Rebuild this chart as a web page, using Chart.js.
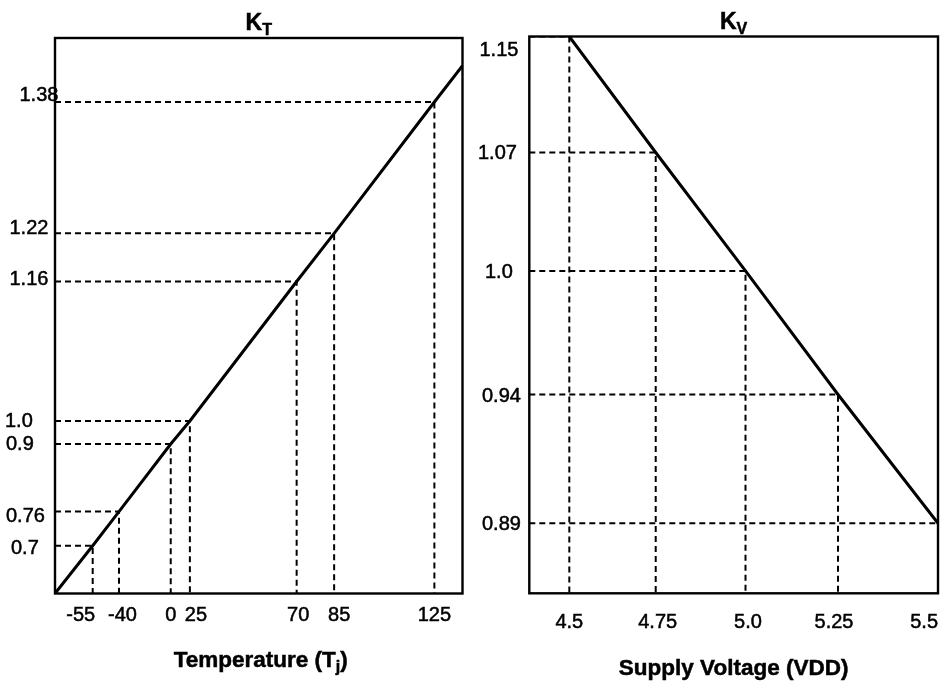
<!DOCTYPE html>
<html><head><meta charset="utf-8">
<script src="https://cdn.jsdelivr.net/npm/chart.js@4.4.0/dist/chart.umd.min.js"></script>
<style>
html,body{margin:0;padding:0;background:#fff;}
#wrap{position:relative;width:945px;height:684px;overflow:hidden;background:#fff;}
canvas{position:absolute;top:0;}
</style></head><body>
<div id="wrap">
<canvas id="c1" width="472" height="684" style="left:0"></canvas>
<canvas id="c2" width="473" height="684" style="left:472px"></canvas>
</div>
<script>
// ---------- DATA ----------
// Left chart: K_T vs junction temperature
const tempTicks = [-55, -40, 0, 25, 70, 85, 125];
const tempTickLabels = ['-55', '-40', '0', '25', '70', '85', '125'];
const ktValues = [0.7, 0.76, 0.9, 1.0, 1.16, 1.22, 1.38];
const ktTickLabels = ['0.7', '0.76', '0.9', '1.0', '1.16', '1.22', '1.38'];
const tempRange = [-76, 136];          // axis ends
const ktRange = [0.62, 1.46];
const ktCurveEndT = 136;               // curve leaves the frame at the right edge
const ktCurveEndK = 1.425;

// Right chart: K_V vs supply voltage
const vddTicks = [4.5, 4.75, 5.0, 5.25, 5.5];
const vddTickLabels = ['4.5', '4.75', '5.0', '5.25', '5.5'];
const kvValues = [1.15, 1.07, 1.0, 0.94, 0.89];
const kvTickLabels = ['1.15', '1.07', '1.0', '0.94', '0.89'];
const vddRange = [4.38, 5.5];
const kvRange = [0.86, 1.15];

const titleLeft = ['K', 'T'];
const titleRight = ['K', 'V'];
const xTitleLeft = ['Temperature (T', 'j', ')'];
const xTitleRight = ['Supply Voltage (VDD)'];

// ---------- LAYOUT (the drawing's warped axes: fraction of axis length per knot) ----------
const tempAxisFrac = [0, 0.0925, 0.157, 0.284, 0.331, 0.593, 0.685, 0.931, 1];
const ktAxisFrac = [0, 0.0860, 0.1474, 0.2691, 0.3105, 0.5617, 0.6484, 0.8848, 0.950, 1];
const vddAxisFrac = [0, 0.0979, 0.3093, 0.529, 0.7553, 1];
const kvAxisFrac = [0, 0.1257, 0.357, 0.5789, 0.7917, 1];

const tempLabelDx = [-12, 3.5, 0, 6, 1.5, 5, 0];
const ktLabelX = [11, 6, 6, 5, 9.5, 9.5, 19.5];
const ktLabelDy = [0.8, 3.1, -1.5, -1.2, -3.2, -6.6, -7.8];
const vddLabelDx = [0, 2, 2.5, -4, 0];
const kvLabelX = [7.5, 6, 13, 10, 10];

const FONT = '"Liberation Sans", Arial, Helvetica, sans-serif';
const TICK_PX = 20;

function piecewise(values, fracs) {
  const pairs = values.map((v, i) => [v, fracs[i]]).sort((a, b) => a[0] - b[0]);
  const vs = pairs.map(p => p[0]), fs = pairs.map(p => p[1]);
  const seg = (v, i) => fs[i] + (v - vs[i]) * (fs[i + 1] - fs[i]) / (vs[i + 1] - vs[i]);
  return {
    toDec(v) {
      if (v <= vs[0]) return seg(v, 0);
      for (let i = 0; i < vs.length - 1; i++) if (v <= vs[i + 1]) return seg(v, i);
      return seg(v, vs.length - 2);
    },
    fromDec(d) {
      for (let i = 0; i < fs.length - 1; i++) if (d <= fs[i + 1] || i === fs.length - 2)
        return vs[i] + (d - fs[i]) * (vs[i + 1] - vs[i]) / (fs[i + 1] - fs[i]);
    }
  };
}

function warpedAxis(map, range, fixed) {
  return {
    type: 'linear', min: range[0], max: range[1], display: true,
    grid: { display: false }, border: { display: false }, ticks: { display: false },
    beforeUpdate(s) {
      s.getPixelForValue = (v) => (v === null || v === undefined) ? NaN : s.getPixelForDecimal(map.toDec(v));
      s.getValueForPixel = (p) => map.fromDec(s.getDecimalForPixel(p));
    },
    afterFit(s) { if (s.isHorizontal()) s.height = fixed; else s.width = fixed; }
  };
}

function guideSets(xs, ys, xMin, yMin) {
  return xs.map((x, i) => ({
    data: [{ x: xMin, y: ys[i] }, { x: x, y: ys[i] }, { x: x, y: yMin }],
    showLine: true, borderColor: '#000', borderWidth: 2, borderDash: [6, 4],
    pointRadius: 0, fill: false, tension: 0
  }));
}

function drawParts(ctx, parts, cx, baseline, stroke) {
  let total = 0;
  parts.forEach(p => { ctx.font = `${p.weight} ${p.size}px ${FONT}`; p.w = ctx.measureText(p.text).width; total += p.w; });
  let x = cx - total / 2;
  ctx.textAlign = 'left'; ctx.textBaseline = 'alphabetic';
  parts.forEach(p => {
    ctx.font = `${p.weight} ${p.size}px ${FONT}`;
    ctx.fillText(p.text, x, baseline + p.dy);
    if (stroke) ctx.strokeText(p.text, x, baseline + p.dy);
    x += p.w;
  });
}

function decor(cfg) {
  return {
    id: 'decor',
    afterDatasetsDraw(chart) {
      const ctx = chart.ctx, a = chart.chartArea, xs = chart.scales.x, ys = chart.scales.y;
      ctx.save();
      ctx.strokeStyle = '#000'; ctx.lineWidth = 2.4; ctx.setLineDash([]);
      ctx.strokeRect(a.left, a.top, a.right - a.left, a.bottom - a.top);
      ctx.fillStyle = '#000';
      ctx.lineWidth = 0.5;
      // title with subscript
      drawParts(ctx, [
        { text: cfg.title[0], size: 23, weight: 'bold', dy: 0 },
        { text: cfg.title[1], size: 16, weight: 'bold', dy: 5 }
      ], (a.left + a.right) / 2, cfg.titleY, true);
      // x tick labels
      ctx.font = `${TICK_PX}px ${FONT}`; ctx.textBaseline = 'alphabetic'; ctx.textAlign = 'center';
      cfg.xTicks.forEach((v, i) => {
        const lab = cfg.xLabels[i];
        const w = ctx.measureText(lab).width;
        let cx = xs.getPixelForValue(v) + cfg.xDx[i];
        cx = Math.min(cx, a.right - w / 2);
        ctx.fillText(lab, cx, cfg.xLabelBase);
        ctx.strokeText(lab, cx, cfg.xLabelBase);
      });
      // y tick labels
      ctx.textAlign = 'left';
      cfg.yTicks.forEach((v, i) => {
        let cy = ys.getPixelForValue(v) + (cfg.yDy ? cfg.yDy[i] : 0);
        cy = Math.max(cy, a.top + 12.5);
        ctx.fillText(cfg.yLabels[i], cfg.yX[i], cy + 7);
        ctx.strokeText(cfg.yLabels[i], cfg.yX[i], cy + 7);
      });
      // axis title
      const parts = cfg.xTitle.map((t, i) => ({ text: t, size: (i === 1 ? 16 : 22.5), weight: 'bold', dy: (i === 1 ? 5 : 0) }));
      drawParts(ctx, parts, (a.left + a.right) / 2 + cfg.xTitleDx, cfg.xTitleBase, true);
      ctx.restore();
    }
  };
}

Chart.defaults.font.family = FONT;
const common = {
  responsive: false, animation: false, devicePixelRatio: 1,
  plugins: { legend: { display: false }, tooltip: { enabled: false }, title: { display: false } },
  events: []
};

// ---------- LEFT CHART ----------
const tMap = piecewise([tempRange[0], ...tempTicks, tempRange[1]], tempAxisFrac);
const kMap = piecewise([ktRange[0], ...ktValues, ktCurveEndK, ktRange[1]], ktAxisFrac);
const ktCurve = [{ x: tempRange[0], y: ktRange[0] }]
  .concat(tempTicks.map((t, i) => ({ x: t, y: ktValues[i] })))
  .concat([{ x: ktCurveEndT, y: ktCurveEndK }]);

new Chart(document.getElementById('c1'), {
  type: 'scatter',
  data: {
    datasets: [{
      data: ktCurve, showLine: true, borderColor: '#000', borderWidth: 3,
      pointRadius: 0, fill: false, tension: 0
    }].concat(guideSets(tempTicks, ktValues, tempRange[0], ktRange[0]))
  },
  options: Object.assign({}, common, {
    layout: { padding: { top: 38, right: 9.5, left: 0, bottom: 0 } },
    scales: {
      x: warpedAxis(tMap, tempRange, 90.5),
      y: warpedAxis(kMap, ktRange, 55)
    }
  }),
  plugins: [decor({
    title: titleLeft, titleY: 30,
    xTicks: tempTicks, xLabels: tempTickLabels, xDx: tempLabelDx, xLabelBase: 621,
    yTicks: ktValues, yLabels: ktTickLabels, yX: ktLabelX, yDy: ktLabelDy,
    xTitle: xTitleLeft, xTitleDx: 2, xTitleBase: 667
  })]
});

// ---------- RIGHT CHART ----------
const vMap = piecewise([vddRange[0], ...vddTicks], vddAxisFrac);
const kvSorted = [kvRange[0], ...kvValues.slice().sort((a, b) => a - b)];
const kvMap = piecewise(kvSorted, kvAxisFrac);
const kvCurve = vddTicks.map((v, i) => ({ x: v, y: kvValues[i] }));

new Chart(document.getElementById('c2'), {
  type: 'scatter',
  data: {
    datasets: [{
      data: kvCurve, showLine: true, borderColor: '#000', borderWidth: 3,
      pointRadius: 0, fill: false, tension: 0
    }].concat(guideSets(vddTicks, kvValues, vddRange[0], kvRange[0]))
  },
  options: Object.assign({}, common, {
    layout: { padding: { top: 36.5, right: 7, left: 0, bottom: 0 } },
    scales: {
      x: warpedAxis(vMap, vddRange, 90.7),
      y: warpedAxis(kvMap, kvRange, 57.3)
    }
  }),
  plugins: [decor({
    title: titleRight, titleY: 29,
    xTicks: vddTicks, xLabels: vddTickLabels, xDx: vddLabelDx, xLabelBase: 628,
    yTicks: kvValues, yLabels: kvTickLabels, yX: kvLabelX, yDy: null,
    xTitle: xTitleRight, xTitleDx: 0, xTitleBase: 675
  })]
});
</script>
</body></html>
